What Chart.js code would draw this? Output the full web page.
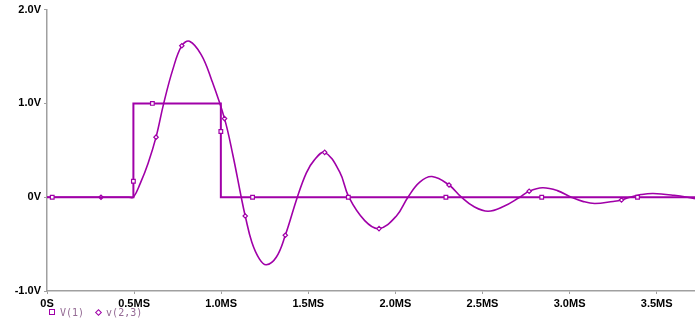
<!DOCTYPE html>
<html>
<head>
<meta charset="utf-8">
<script src="https://cdn.jsdelivr.net/npm/chart.js@4/dist/chart.umd.min.js"></script>
<style>
  html, body { margin: 0; padding: 0; background: #fff; }
  #wrap { width: 695px; height: 321px; position: relative; }
  #legend {
    position: absolute; left: 49px; top: 307px;
    font: 10px "DejaVu Sans Mono", monospace; color: #946a94;
    white-space: pre; line-height: 12px;
  }
  #legend .sq, #legend .dm {
    display: inline-block; width: 4px; height: 4px;
    border: 1px solid #a000a8; background: #fff; vertical-align: 1px;
    margin-right: 5px;
  }
  #legend .dm { width: 3px; height: 3px; transform: rotate(45deg); margin-left: 12px; }
</style>
</head>
<body>
<div id="wrap">
  <canvas id="myChart"></canvas>
  <div id="legend"></div>
</div>
<script>
// V(1): pulse source, time in ms
const v1Time = [0, 0.03, 0.496, 0.496, 0.496, 0.605, 0.998, 0.998, 0.998, 1.18, 1.73, 2.29, 2.84, 3.39, 3.72];
const v1Volt = [0, 0, 0, 0.17, 1.0, 1.0, 1.0, 0.70, 0, 0, 0, 0, 0, 0, 0];
const v1Mark = [0, 1, 0, 1, 0, 1, 0, 1, 0, 1, 1, 1, 1, 1, 0];

// v(2,3): damped ringing
const v23Time = [0, 0.31, 0.47, 0.496, 0.536, 0.58, 0.626, 0.67, 0.722, 0.774, 0.818, 0.885, 0.943, 1.019,
    1.067, 1.115, 1.138, 1.176, 1.22, 1.259, 1.316, 1.368, 1.437, 1.489, 1.532, 1.594, 1.68, 1.733, 1.824, 1.906,
    2.006, 2.072, 2.14, 2.21, 2.308, 2.379, 2.45, 2.532, 2.62, 2.714, 2.768, 2.845, 2.93, 3.01, 3.08,
    3.145, 3.25, 3.298, 3.346, 3.41, 3.48, 3.6, 3.72];
const v23Volt = [0, 0, 0, 0, 0.15, 0.36, 0.64, 1.0, 1.36, 1.615, 1.662, 1.52, 1.26, 0.838,
    0.45, 0, -0.2, -0.48, -0.66, -0.72, -0.64, -0.406, 0, 0.26, 0.39, 0.478, 0.27, 0, -0.25, -0.335,
    -0.2, 0, 0.16, 0.22, 0.13, 0, -0.10, -0.15, -0.10, 0, 0.064, 0.10, 0.07, 0, -0.047,
    -0.067, -0.045, -0.03, 0, 0.028, 0.04, 0.02, -0.015];
const v23Mark = [0, 1, 0, 0, 0, 0, 1, 0, 0, 1, 0, 0, 0, 1,
    0, 0, 1, 0, 0, 0, 0, 1, 0, 0, 0, 1, 0, 0, 0, 1,
    0, 0, 0, 0, 1, 0, 0, 0, 0, 0, 1, 0, 0, 0, 0,
    0, 0, 1, 0, 0, 0, 0, 0];

const seriesNames = ['V(1)', 'v(2,3)'];
const xTicks = [0, 0.5, 1.0, 1.5, 2.0, 2.5, 3.0, 3.5];
const yTicks = [-1, 0, 1, 2];

const purple = '#a000a8';

function pts(t, v) {
    return t.map((x, i) => ({ x: x, y: v[i] }));
}

// html legend, same look as the probe window
document.getElementById('legend').innerHTML =
    '<span class="sq"></span>' + seriesNames[0] + '<span class="dm"></span>' + seriesNames[1];

const data = {
    datasets: [{
        label: seriesNames[0],
        data: pts(v1Time, v1Volt),
        borderColor: purple,
        borderWidth: 2,
        tension: 0,
        pointStyle: 'rect',
        pointRadius: v1Mark.map(m => m ? 2.6 : 0),
        pointBorderWidth: 1.2,
        pointBackgroundColor: '#fff',
        pointBorderColor: purple
    }, {
        label: seriesNames[1],
        data: pts(v23Time, v23Volt),
        borderColor: purple,
        borderWidth: 1.6,
        tension: 0.4,
        pointStyle: 'rectRot',
        pointRadius: v23Mark.map(m => m ? 2.2 : 0),
        pointBorderWidth: 1.2,
        pointBackgroundColor: '#fff',
        pointBorderColor: purple
    }]
};

const tickFont = { family: 'Liberation Sans', size: 11, weight: 'bold' };

new Chart(document.getElementById('myChart'), {
    type: 'line',
    data: data,
    options: {
        responsive: true,
        maintainAspectRatio: false,
        animation: false,
        layout: { padding: { top: 8, right: 0, left: 0, bottom: 0 } },
        plugins: {
            tooltip: { enabled: false },
            legend: { display: false }
        },
        scales: {
            x: {
                type: 'linear',
                min: 0,
                max: 3.72,
                afterBuildTicks: s => { s.ticks = xTicks.map(v => ({ value: v })); },
                afterFit: s => { s.height = 30; },
                border: { color: '#a0a0a0', width: 1.5 },
                grid: { drawOnChartArea: false, tickLength: 3, color: '#a0a0a0' },
                ticks: {
                    color: '#000',
                    font: tickFont,
                    padding: 3,
                    maxRotation: 0,
                    callback: v => v === 0 ? '0S' : v.toFixed(1) + 'MS'
                }
            },
            y: {
                min: -1,
                max: 2,
                afterBuildTicks: s => { s.ticks = yTicks.map(v => ({ value: v })); },
                afterFit: s => { s.width = 47; },
                border: { color: '#a0a0a0', width: 1.5 },
                grid: { drawOnChartArea: false, tickLength: 3, color: '#a0a0a0' },
                ticks: {
                    color: '#000',
                    font: tickFont,
                    padding: 3,
                    callback: v => v === 0 ? '0V' : v.toFixed(1) + 'V'
                }
            }
        }
    }
});
</script>
</body>
</html>
